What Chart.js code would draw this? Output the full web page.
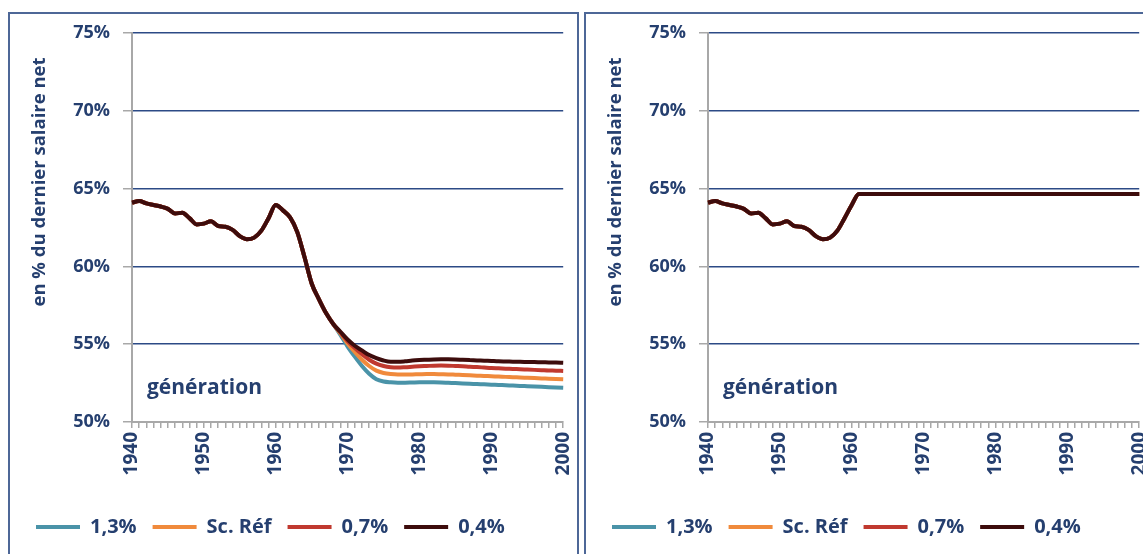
<!DOCTYPE html>
<html lang="fr">
<head>
<meta charset="utf-8">
<title>Taux de remplacement par génération</title>
<script src="https://cdn.jsdelivr.net/npm/chart.js@4.4.1/dist/chart.umd.min.js"></script>
<style>
    html, body { margin: 0; padding: 0; background: #ffffff; overflow: hidden; }
    body { width: 1143px; height: 554px; position: relative; }
    .panel {
        position: absolute;
        top: 12px;
        width: 571px;
        height: 560px;
        box-sizing: border-box;
        border: 2px solid #4d6797;
        background: #ffffff;
        overflow: hidden;
    }
    #panelLeft { left: 8px; }
    #panelRight { left: 584px; }
    canvas { display: block; }
</style>
</head>
<body>
<div class="panel" id="panelLeft"><canvas id="chartLeft" width="580" height="540"></canvas></div>
<div class="panel" id="panelRight"><canvas id="chartRight" width="580" height="540"></canvas></div>

<script>
"use strict";

// générations 1940 à 2000
const years = [];
for (let y = 1940; y <= 2000; y++) years.push(String(y));

const seriesNames = ["1,3%", "Sc. Réf", "0,7%", "0,4%"];
const seriesColors = ["#4a93a8", "#f08a3c", "#c0392f", "#3d0c0c"];

// partie commune 1940-1968
const common = [
    64.1, 64.2, 64.05, 63.95, 63.85, 63.7, 63.4, 63.45, 63.1, 62.7,
    62.75, 62.9, 62.6, 62.55, 62.35, 61.95, 61.75, 61.85, 62.3, 63.1,
    63.95, 63.6, 63.15, 62.2, 60.6, 58.9, 57.9, 57.0, 56.3
];

// 1969-2000 par scénario
const tail13 = [
    55.6, 54.85, 54.2, 53.6, 53.1, 52.75, 52.6, 52.55, 52.53, 52.53,
    52.54, 52.55, 52.55, 52.55, 52.54, 52.52, 52.5, 52.48, 52.46, 52.44,
    52.42, 52.4, 52.38, 52.36, 52.34, 52.32, 52.3, 52.28, 52.26, 52.24,
    52.22, 52.2
];
const tailRef = [
    55.7, 55.05, 54.5, 54.0, 53.6, 53.3, 53.15, 53.08, 53.05, 53.05,
    53.06, 53.07, 53.08, 53.08, 53.07, 53.06, 53.04, 53.02, 53.0, 52.98,
    52.96, 52.94, 52.92, 52.9, 52.88, 52.86, 52.84, 52.82, 52.8, 52.78,
    52.76, 52.74
];
const tail07 = [
    55.75, 55.2, 54.75, 54.35, 54.0, 53.75, 53.6, 53.52, 53.5, 53.52,
    53.55, 53.58, 53.6, 53.62, 53.63, 53.62, 53.6, 53.58, 53.55, 53.53,
    53.5, 53.47, 53.45, 53.43, 53.41, 53.39, 53.37, 53.35, 53.33, 53.31,
    53.3, 53.28
];
const tail04 = [
    55.8, 55.3, 54.9, 54.6, 54.3, 54.1, 53.95, 53.87, 53.87, 53.9,
    53.95, 53.98, 54.0, 54.02, 54.03, 54.03, 54.02, 54.0, 53.98, 53.96,
    53.94, 53.92, 53.9, 53.89, 53.88, 53.87, 53.86, 53.85, 53.84, 53.83,
    53.82, 53.8
];

const leftValues = [
    common.concat(tail13),
    common.concat(tailRef),
    common.concat(tail07),
    common.concat(tail04)
];

// graphique de droite : taux plafonné à partir de 1961
const right1940to1960 = [
    64.1, 64.2, 64.05, 63.95, 63.85, 63.7, 63.4, 63.45, 63.1, 62.7,
    62.75, 62.9, 62.6, 62.55, 62.35, 61.95, 61.75, 61.85, 62.3, 63.1,
    63.95
];
const rightPlateau = [
    64.65, 64.65, 64.65, 64.65, 64.65, 64.65, 64.65, 64.65, 64.65, 64.65,
    64.65, 64.65, 64.65, 64.65, 64.65, 64.65, 64.65, 64.65, 64.65, 64.65,
    64.65, 64.65, 64.65, 64.65, 64.65, 64.65, 64.65, 64.65, 64.65, 64.65,
    64.65, 64.65, 64.65, 64.65, 64.65, 64.65, 64.65, 64.65, 64.65, 64.65
];
const rightSeries = right1940to1960.concat(rightPlateau);
const rightValues = [rightSeries, rightSeries, rightSeries, rightSeries];

const yTicks = [50, 55, 60, 65, 70, 75];

const navy = "#253f6f";
const gridNavy = "#2c4a86";
const axisGray = "#a8a8a8";
const fontFamily = "'Open Sans', Lato, sans-serif";

/**
 * Titre vertical de l'axe Y et mot "génération" dans la zone de tracé.
 */
const extraTexts = {
    id: "extraTexts",
    afterDraw(chart) {
        const { ctx, chartArea } = chart;
        ctx.save();
        ctx.fillStyle = navy;
        ctx.textBaseline = "middle";

        ctx.font = "bold 21px " + fontFamily;
        ctx.textAlign = "left";
        ctx.fillText("génération", chartArea.left + 15, chartArea.bottom - 34);

        ctx.font = "bold 18.5px " + fontFamily;
        ctx.textAlign = "center";
        ctx.translate(30, chartArea.top + 149);
        ctx.rotate(-Math.PI / 2);
        ctx.fillText("en % du dernier salaire net", 0, 0);
        ctx.restore();
    }
};

function makeChart(canvasId, values) {
    const datasets = values.map((vals, i) => ({
        label: seriesNames[i],
        data: vals,
        borderColor: seriesColors[i],
        backgroundColor: seriesColors[i],
        borderWidth: 4,
        pointRadius: 0,
        pointHoverRadius: 0,
        cubicInterpolationMode: "monotone",
        fill: false,
        // la courbe 0,4% passe au-dessus des autres
        order: seriesNames.length - i
    }));

    return new Chart(document.getElementById(canvasId), {
        type: "line",
        data: { labels: years, datasets: datasets },
        plugins: [extraTexts],
        options: {
            responsive: false,
            animation: false,
            layout: { padding: { top: 19, left: 10, right: 0, bottom: 7 } },
            plugins: {
                tooltip: { enabled: false },
                legend: {
                    position: "bottom",
                    align: "start",
                    labels: {
                        sort: (a, b) => a.datasetIndex - b.datasetIndex,
                        usePointStyle: true,
                        pointStyle: "line",
                        pointStyleWidth: 44,
                        boxHeight: 4,
                        padding: 16,
                        color: navy,
                        font: { family: fontFamily, size: 20, weight: "bold" }
                    }
                }
            },
            scales: {
                x: {
                    type: "category",
                    offset: false,
                    afterFit(scale) { scale.height = 79; },
                    grid: {
                        offset: false,
                        drawOnChartArea: false,
                        drawTicks: true,
                        tickLength: 6,
                        color: axisGray,
                        lineWidth: 1.5
                    },
                    border: { color: axisGray, width: 2 },
                    ticks: {
                        autoSkip: false,
                        minRotation: 90,
                        maxRotation: 90,
                        padding: 4,
                        color: navy,
                        font: { family: fontFamily, size: 19, weight: "bold" },
                        callback: function (value, index) {
                            const label = this.getLabelForValue(index);
                            return Number(label) % 10 === 0 ? label : "";
                        }
                    }
                },
                y: {
                    min: 50,
                    max: 75,
                    afterFit(scale) {
                        scale.width = 112;
                        scale.paddingTop = 0;
                        scale.paddingBottom = 0;
                    },
                    afterBuildTicks(scale) { scale.ticks = yTicks.map(v => ({ value: v })); },
                    grid: {
                        color: ctx => (ctx.tick && ctx.tick.value === 50 ? axisGray : gridNavy),
                        lineWidth: 1.5,
                        tickLength: 9,
                        tickColor: axisGray
                    },
                    border: { color: axisGray, width: 2 },
                    ticks: {
                        padding: 13,
                        color: navy,
                        font: { family: fontFamily, size: 18, weight: "bold" },
                        callback: value => value + "%"
                    }
                }
            }
        }
    });
}

makeChart("chartLeft", leftValues);
makeChart("chartRight", rightValues);
</script>
</body>
</html>
